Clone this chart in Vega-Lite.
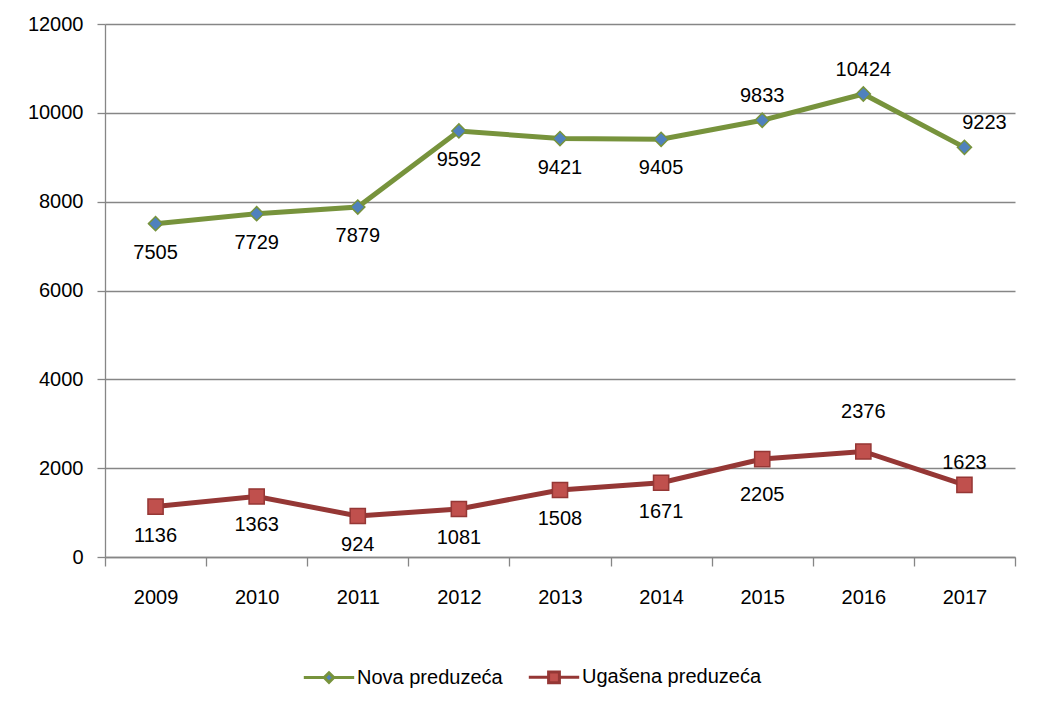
{
  "$schema": "https://vega.github.io/schema/vega-lite/v6.json",
  "width": 910,
  "height": 533,
  "autosize": "none",
  "padding": {"left": 105, "top": 24, "right": 22, "bottom": 154},
  "background": "white",
  "config": {
    "font": "Liberation Sans",
    "view": {"stroke": null},
    "axis": {
      "domainColor": "#868686",
      "domainWidth": 1.3,
      "tickColor": "#868686",
      "tickWidth": 1.3,
      "gridColor": "#868686",
      "gridWidth": 1.3,
      "labelFont": "Liberation Sans",
      "labelFontSize": 20,
      "labelColor": "#000000",
      "title": null
    }
  },
  "data": {
    "values": [
      {"year": "2009", "series": "Nova preduzeća", "value": 7505},
      {"year": "2010", "series": "Nova preduzeća", "value": 7729},
      {"year": "2011", "series": "Nova preduzeća", "value": 7879},
      {"year": "2012", "series": "Nova preduzeća", "value": 9592},
      {"year": "2013", "series": "Nova preduzeća", "value": 9421},
      {"year": "2014", "series": "Nova preduzeća", "value": 9405},
      {"year": "2015", "series": "Nova preduzeća", "value": 9833},
      {"year": "2016", "series": "Nova preduzeća", "value": 10424},
      {"year": "2017", "series": "Nova preduzeća", "value": 9223},
      {"year": "2009", "series": "Ugašena preduzeća", "value": 1136},
      {"year": "2010", "series": "Ugašena preduzeća", "value": 1363},
      {"year": "2011", "series": "Ugašena preduzeća", "value": 924},
      {"year": "2012", "series": "Ugašena preduzeća", "value": 1081},
      {"year": "2013", "series": "Ugašena preduzeća", "value": 1508},
      {"year": "2014", "series": "Ugašena preduzeća", "value": 1671},
      {"year": "2015", "series": "Ugašena preduzeća", "value": 2205},
      {"year": "2016", "series": "Ugašena preduzeća", "value": 2376},
      {"year": "2017", "series": "Ugašena preduzeća", "value": 1623}
    ]
  },
  "encoding": {
    "x": {
      "field": "year",
      "type": "ordinal",
      "scale": {"type": "band", "paddingInner": 0, "paddingOuter": 0},
      "axis": {
        "labelAngle": 0,
        "labelFontSize": 20,
        "tickBand": "extent",
        "tickSize": 9,
        "labelPadding": 21,
        "grid": false
      }
    },
    "y": {
      "field": "value",
      "type": "quantitative",
      "scale": {"domain": [0, 12000], "nice": false},
      "axis": {
        "values": [0, 2000, 4000, 6000, 8000, 10000, 12000],
        "format": "d",
        "labelFontSize": 20,
        "grid": true,
        "tickSize": 8,
        "labelPadding": 14
      }
    }
  },
  "layer": [
    {
      "mark": {"type": "line", "strokeWidth": 5},
      "encoding": {
        "color": {
          "field": "series",
          "type": "nominal",
          "scale": {"domain": ["Nova preduzeća", "Ugašena preduzeća"], "range": ["#77933C", "#953735"]},
          "legend": {
            "orient": "none",
            "legendX": 199,
            "legendY": 643,
            "direction": "horizontal",
            "title": null,
            "padding": 0,
            "labelFontSize": 20,
            "labelColor": "#000000",
            "labelLimit": 400,
            "symbolSize": 144,
            "symbolOffset": 15,
            "labelOffset": 18,
            "columnPadding": 19,
            "symbolStrokeWidth": 3,
            "encode": {
              "symbols": {
                "update": {
                  "shape": {"signal": "datum.value === 'Nova preduzeća' ? 'M-4.2,0L-0.8,0M0.8,0L4.2,0M0,-0.8L0.8,0L0,0.8L-0.8,0Z' : 'M-4.2,0L-0.9,0M0.9,0L4.2,0M-0.9,-0.9L0.9,-0.9L0.9,0.9L-0.9,0.9Z'"},
                  "fill": {"signal": "datum.value === 'Nova preduzeća' ? '#4F81BD' : '#C0504D'"},
                  "stroke": {"signal": "datum.value === 'Nova preduzeća' ? '#77933C' : '#953735'"},
                  "strokeWidth": {"value": 3},
                  "opacity": {"value": 1}
                }
              }
            }
          }
        }
      }
    },
    {
      "transform": [{"filter": "datum.series === 'Nova preduzeća'"}],
      "mark": {"type": "point", "shape": "diamond", "filled": true, "fill": "#4F81BD", "stroke": "#77933C", "opacity": 1, "strokeWidth": 1.5, "size": 200}
    },
    {
      "transform": [{"filter": "datum.series === 'Ugašena preduzeća'"}],
      "mark": {"type": "point", "shape": "square", "filled": true, "fill": "#C0504D", "stroke": "#953735", "opacity": 1, "strokeWidth": 1.5, "size": 230}
    },
    {
      "transform": [{"filter": "toNumber(datum.year) <= 2014"}],
      "mark": {"type": "text", "fontSize": 20, "color": "#000000", "baseline": "middle", "dy": 29},
      "encoding": {"text": {"field": "value", "type": "quantitative", "format": "d"}}
    },
    {
      "transform": [{"filter": "datum.series === 'Ugašena preduzeća' && datum.year === '2015'"}],
      "mark": {"type": "text", "fontSize": 20, "color": "#000000", "baseline": "middle", "dy": 36},
      "encoding": {"text": {"field": "value", "type": "quantitative", "format": "d"}}
    },
    {
      "transform": [{"filter": "datum.series === 'Nova preduzeća' && (datum.year === '2015' || datum.year === '2016')"}],
      "mark": {"type": "text", "fontSize": 20, "color": "#000000", "baseline": "middle", "dy": -24},
      "encoding": {"text": {"field": "value", "type": "quantitative", "format": "d"}}
    },
    {
      "transform": [{"filter": "datum.series === 'Nova preduzeća' && datum.year === '2017'"}],
      "mark": {"type": "text", "fontSize": 20, "color": "#000000", "baseline": "middle", "dy": -24, "dx": 20},
      "encoding": {"text": {"field": "value", "type": "quantitative", "format": "d"}}
    },
    {
      "transform": [{"filter": "datum.series === 'Ugašena preduzeća' && datum.year === '2016'"}],
      "mark": {"type": "text", "fontSize": 20, "color": "#000000", "baseline": "middle", "dy": -39},
      "encoding": {"text": {"field": "value", "type": "quantitative", "format": "d"}}
    },
    {
      "transform": [{"filter": "datum.series === 'Ugašena preduzeća' && datum.year === '2017'"}],
      "mark": {"type": "text", "fontSize": 20, "color": "#000000", "baseline": "middle", "dy": -22},
      "encoding": {"text": {"field": "value", "type": "quantitative", "format": "d"}}
    }
  ]
}
